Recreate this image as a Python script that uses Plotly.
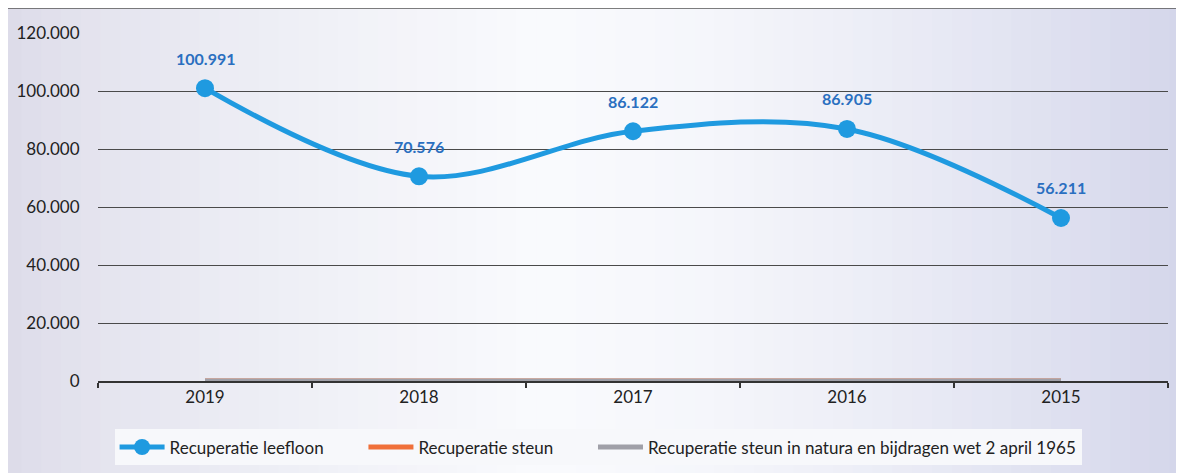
import plotly.graph_objects as go

years = ["2019", "2018", "2017", "2016", "2015"]
leefloon = [100991, 70576, 86122, 86905, 56211]
steun = [0, 0, 0, 0, 0]
natura = [0, 0, 0, 0, 0]
series_names = ["Recuperatie leefloon", "Recuperatie steun",
                "Recuperatie steun in natura en bijdragen wet 2 april 1965"]

FONT = "Lato"
PAD = "\u00a0" * 8

fig = go.Figure()
fig.add_trace(go.Scatter(
    x=years, y=steun, name=series_names[1] + PAD, mode="lines",
    line=dict(color="#f0703a", width=5), legendrank=2,
))
fig.add_trace(go.Scatter(
    x=years, y=natura, name=series_names[2], mode="lines",
    line=dict(color="#a0a0a8", width=5), legendrank=3,
))
fig.add_trace(go.Scatter(
    x=years, y=leefloon, name=series_names[0] + PAD, legendrank=1,
    mode="lines+markers", line=dict(color="#1f9ae0", width=5, shape="spline", smoothing=1.0),
    marker=dict(size=18, color="#1f9ae0"),
))

annotations = [
    dict(x=i, y=v, xref="x", yref="y", text=f"{v:,}".replace(",", "."), showarrow=False,
         yshift=30, font=dict(family=FONT, size=16, color="#2a6fc0", weight="bold"))
    for i, v in enumerate(leefloon)
]

# background gradient strips (styling)
def mix(c1, c2, t):
    return "#" + "".join(f"{round(a + (b - a) * t):02x}" for a, b in zip(c1, c2))

left_c = (0xdb, 0xda, 0xe8)
mid_c = (0xf9, 0xfa, 0xfd)
right_c = (0xd3, 0xd5, 0xea)
shapes = []
N = 60
for i in range(N):
    x0 = i / N
    x1 = (i + 1) / N + 0.002
    xm = (i + 0.5) / N
    if xm < 0.45:
        col = mix(left_c, mid_c, (xm / 0.45) ** 0.7)
    else:
        col = mix(mid_c, right_c, ((xm - 0.45) / 0.55) ** 1.6)
    shapes.append(dict(type="rect", xref="paper", yref="paper", x0=-0.09 + x0 * 1.11, x1=-0.09 + x1 * 1.11,
                       y0=-0.3, y1=1.1, line=dict(width=0), fillcolor=col, layer="below"))
# scan frame lines (top and left)
shapes.append(dict(type="line", xref="paper", yref="paper", x0=-0.0865, x1=1.02, y0=1.072, y1=1.072,
                   line=dict(color="#555", width=1.5), layer="below"))
shapes.append(dict(type="line", xref="paper", yref="paper", x0=-0.0865, x1=-0.0865, y0=-0.3, y1=1.072,
                   line=dict(color="#666", width=1.5), layer="below"))

fig.update_layout(
    width=1176, height=465,
    margin=dict(l=90, r=16, t=25, b=92, autoexpand=False),
    paper_bgcolor="#eceef6", plot_bgcolor="rgba(0,0,0,0)",
    separators=",.",
    font=dict(family=FONT, size=16, color="#222"),
    showlegend=True,
    legend=dict(orientation="h", xref="paper", x=0.0155, xanchor="left", yref="container", y=0.055,
                yanchor="middle", bgcolor="#f7f8fb", font=dict(size=17, color="#222"), itemwidth=45),
    xaxis=dict(type="category", range=[-0.5, 4.5], showgrid=False, automargin=False,
               showline=True, linecolor="#333", linewidth=2,
               ticks="outside", tickson="boundaries", ticklen=5, tickcolor="#333", tickwidth=2,
               tickfont=dict(size=17, color="#222"), zeroline=False),
    yaxis=dict(range=[0, 120000], dtick=20000, tickformat=",d", automargin=False,
               showgrid=True, gridcolor="#4a4a4a", gridwidth=1, zeroline=False,
               ticks="outside", ticklen=14, tickcolor="rgba(0,0,0,0)",
               tickfont=dict(size=17, color="#222")),
    shapes=shapes,
    annotations=annotations,
)

fig.write_html("out.html")
